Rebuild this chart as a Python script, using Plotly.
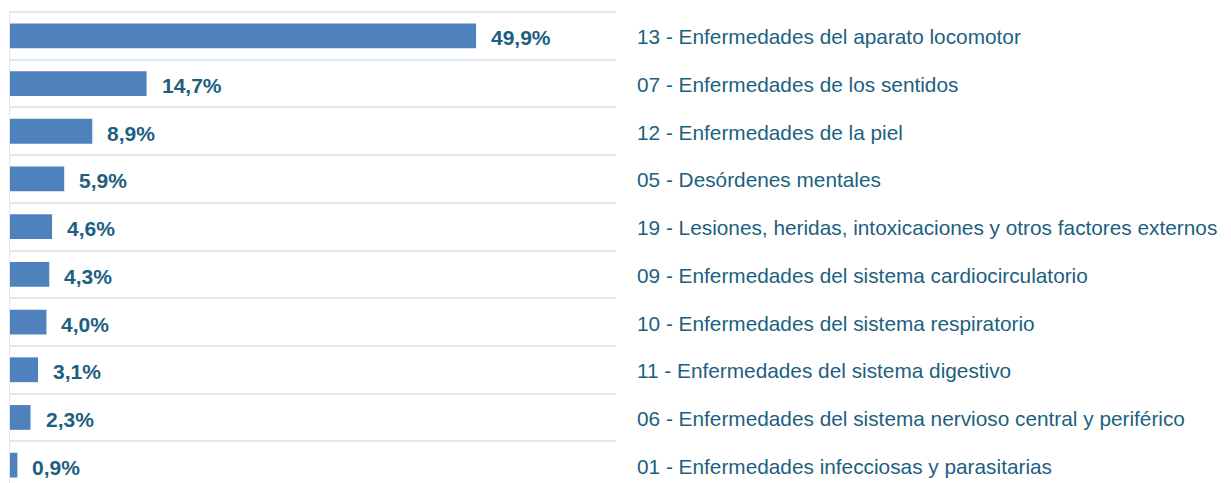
import plotly.graph_objects as go

categories = [
    "13 - Enfermedades del aparato locomotor",
    "07 - Enfermedades de los sentidos",
    "12 - Enfermedades de la piel",
    "05 - Desórdenes mentales",
    "19 - Lesiones, heridas, intoxicaciones y otros factores externos",
    "09 - Enfermedades del sistema cardiocirculatorio",
    "10 - Enfermedades del sistema respiratorio",
    "11 - Enfermedades del sistema digestivo",
    "06 - Enfermedades del sistema nervioso central y periférico",
    "01 - Enfermedades infecciosas y parasitarias",
]
values = [49.9, 14.7, 8.9, 5.9, 4.6, 4.3, 4.0, 3.1, 2.3, 0.9]
value_labels = ["49,9%", "14,7%", "8,9%", "5,9%", "4,6%", "4,3%", "4,0%", "3,1%", "2,3%", "0,9%"]

# page body has an 8px default margin; offset the figure accordingly
OFF = 8
W, H = 1231 - OFF, 483 - OFF
PL, PR, PT = 9 - OFF, 616 - OFF, 12 - OFF
ML, MR, MT, MB = PL, W - PR, PT, 0
XMAX = 64.85

BAR = "#4f81bd"
TXT = "#1d5f80"
GRID = "#dde9f6"
FONT = "Liberation Sans, Arial, sans-serif"

pos = list(range(len(values)))

fig = go.Figure()
fig.add_trace(go.Bar(
    x=values, y=pos, orientation="h", width=0.52,
    marker=dict(color=BAR, line=dict(width=0)),
    hoverinfo="skip",
))

annotations = []
for i, (v, lab) in enumerate(zip(values, value_labels)):
    annotations.append(dict(
        x=v, y=i, xref="x", yref="y", text=f"<b>{lab}</b>", showarrow=False,
        xanchor="left", yanchor="middle", xshift=13, yshift=-2,
        font=dict(family=FONT, size=21, color=TXT),
    ))
label_x = (636 - OFF - 1 - PL) / (PR - PL)
for i, cat in enumerate(categories):
    annotations.append(dict(
        x=label_x, y=i, xref="paper", yref="y", text=cat, showarrow=False,
        xanchor="left", yanchor="middle", yshift=-1,
        font=dict(family=FONT, size=20.8, color=TXT),
    ))

row_px = 47.7
plot_h = H - MT - MB
bottom = -0.5 + plot_h / row_px

fig.update_layout(
    width=W, height=H,
    margin=dict(l=ML, r=MR, t=MT, b=MB, pad=0),
    paper_bgcolor="white", plot_bgcolor="white",
    showlegend=False,
    annotations=annotations,
    xaxis=dict(range=[0, XMAX], showgrid=False, zeroline=False, showticklabels=False,
               showline=False, fixedrange=True),
    yaxis=dict(range=[bottom, -0.5], tickvals=[k - 0.5 for k in range(len(values))],
               showgrid=True, gridcolor=GRID, gridwidth=2, showticklabels=False,
               zeroline=False, showline=False, ticks="", fixedrange=True),
    shapes=[
        dict(type="line", xref="x", yref="paper", x0=0, x1=0, y0=0, y1=1,
             line=dict(color=GRID, width=2), layer="above"),
        dict(type="line", xref="paper", yref="paper", x0=0, x1=1, y0=1, y1=1,
             line=dict(color=GRID, width=2), layer="below"),
    ],
)

fig.write_html("out.html")
